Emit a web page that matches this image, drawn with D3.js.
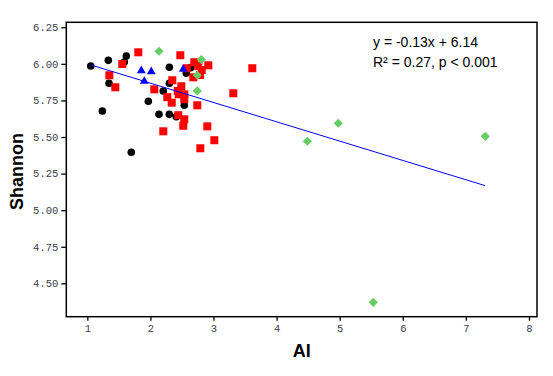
<!DOCTYPE html>
<html><head><meta charset="utf-8">
<script src="https://cdn.jsdelivr.net/npm/d3@7"></script>
<style>body{margin:0;background:#fff}svg{display:block}</style>
</head><body>
<svg id="c" width="553" height="376"></svg>
<script>
const blackX = [1.054,1.333,1.618,1.586,1.344,1.238,1.967,1.697,2.300,2.300,2.204,2.136,2.300,2.410,2.537,2.569,2.639];
const blackY = [5.985,6.024,6.054,6.013,5.867,5.678,5.744,5.396,5.977,5.867,5.815,5.655,5.655,5.639,5.717,5.936,5.974];
const redX = [1.808,1.349,1.555,1.444,2.474,2.062,2.347,2.268,2.338,2.433,2.490,2.449,2.537,2.537,2.442,2.537,2.521,2.204,2.743,2.902,3.013,2.791,3.314,3.615,2.575,2.696,2.759,2.918,2.813,2.786,2.680];
const redY = [6.079,5.922,5.999,5.840,6.059,5.826,5.888,5.772,5.735,5.815,5.847,5.792,5.792,5.758,5.649,5.621,5.577,5.539,5.717,5.573,5.478,5.423,5.799,5.970,5.970,6.011,5.985,5.990,5.958,5.924,5.908];
const blueX = [1.856,2.014,1.903,2.521];
const blueY = [5.953,5.947,5.881,5.963];
const greenX = [2.136,2.807,2.743,2.743,4.487,4.978,7.307,5.532];
const greenY = [6.086,6.029,5.922,5.815,5.471,5.594,5.505,4.370];
const xTicks = [1,2,3,4,5,6,7,8];
const yTicks = [4.50,4.75,5.00,5.25,5.50,5.75,6.00,6.25];
const fitSlope = -0.132, fitIntercept = 6.132;
const eqLine1 = "y = -0.13x + 6.14";
const eqLine2 = "R\u00B2 = 0.27, p < 0.001";
const xTitle = "AI", yTitle = "Shannon";

const svg = d3.select("#c");
const L = 66.3, R = 537, T = 22.3, B = 316.7;
const x = d3.scaleLinear().domain([0.667, 8.127]).range([L, R]);
const y = d3.scaleLinear().domain([4.272, 6.284]).range([B, T]);

const tickFont = "'Liberation Mono', monospace";
const xAxis = svg.append("g").attr("transform", `translate(0,${B})`)
  .call(d3.axisBottom(x).tickValues(xTicks).tickSize(4).tickPadding(4).tickFormat(d3.format("d")));
const yAxis = svg.append("g").attr("transform", `translate(${L},0)`)
  .call(d3.axisLeft(y).tickValues(yTicks).tickSize(5).tickPadding(3).tickFormat(d3.format(".2f")));
[xAxis, yAxis].forEach(a => {
  a.select(".domain").remove();
  a.selectAll("line").attr("stroke", "#000").attr("stroke-width", 1.3);
  a.selectAll("text").attr("font-family", tickFont).attr("font-size", "10.5px").attr("fill", "#3b3b4f");
});

svg.append("rect").attr("x", L).attr("y", T).attr("width", R - L).attr("height", B - T)
  .attr("fill", "none").attr("stroke", "#000").attr("stroke-width", 1.5);

// black circles
svg.append("g").selectAll("circle").data(blackX.map((d, i) => [d, blackY[i]])).join("circle")
  .attr("cx", d => x(d[0])).attr("cy", d => y(d[1])).attr("r", 3.8).attr("fill", "#000");
// red squares
svg.append("g").selectAll("rect").data(redX.map((d, i) => [d, redY[i]])).join("rect")
  .attr("x", d => x(d[0]) - 4).attr("y", d => y(d[1]) - 4).attr("width", 8).attr("height", 8).attr("fill", "#ff0000");
// blue triangles
const tri = d3.symbol().type(d3.symbolTriangle).size(34);
svg.append("g").selectAll("path").data(blueX.map((d, i) => [d, blueY[i]])).join("path")
  .attr("d", tri).attr("transform", d => `translate(${x(d[0])},${y(d[1])})`).attr("fill", "#0000ff");
// green diamonds
svg.append("g").selectAll("path").data(greenX.map((d, i) => [d, greenY[i]])).join("path")
  .attr("d", d => { const cx = x(d[0]), cy = y(d[1]), r = 4.6; return `M${cx},${cy-r}L${cx+r},${cy}L${cx},${cy+r}L${cx-r},${cy}Z`; })
  .attr("fill", "#66cc66");

// regression line
const allX = blackX.concat(redX, blueX, greenX);
const xmin = d3.min(allX), xmax = d3.max(allX);
svg.append("line")
  .attr("x1", x(xmin)).attr("y1", y(fitIntercept + fitSlope * xmin))
  .attr("x2", x(xmax)).attr("y2", y(fitIntercept + fitSlope * xmax))
  .attr("stroke", "#0000ff").attr("stroke-width", 1);

// equation text
const tf = "Arial, 'Liberation Sans', sans-serif";
svg.append("text").attr("x", 373).attr("y", 47).attr("font-family", tf).attr("font-size", "14px").attr("fill", "#000").text(eqLine1);
svg.append("text").attr("x", 373).attr("y", 67).attr("font-family", tf).attr("font-size", "14px").attr("fill", "#000").text(eqLine2);

// axis titles
svg.append("text").attr("x", (L + R) / 2).attr("y", 357).attr("text-anchor", "middle")
  .attr("font-family", tf).attr("font-weight", "bold").attr("font-size", "18px").text(xTitle);
svg.append("text").attr("transform", `translate(23,${(T + B) / 2 + 2}) rotate(-90)`).attr("text-anchor", "middle")
  .attr("font-family", tf).attr("font-weight", "bold").attr("font-size", "18px").text(yTitle);
</script>
</body></html>
